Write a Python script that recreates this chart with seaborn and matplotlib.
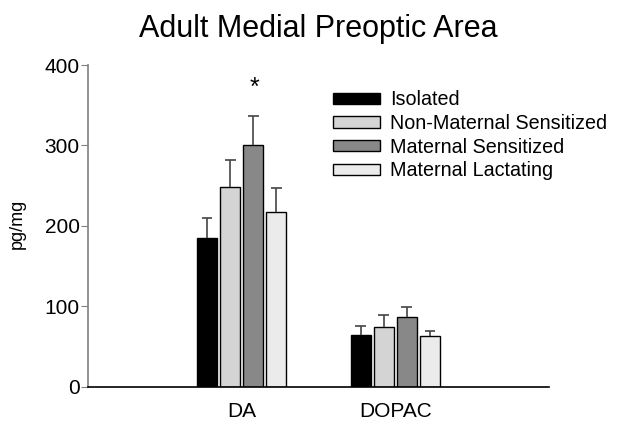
import numpy as np
import pandas as pd
import seaborn as sns
import matplotlib.pyplot as plt

### Data
Regions = ['DA', 'DOPAC']
Groups = ['Isolated', 'Non-Maternal Sensitized', 'Maternal Sensitized', 'Maternal Lactating']
IsolatedMean = [185, 65]
NonMaternalMean = [248, 75]
MaternalMean = [300, 87]
LactatingMean = [218, 63]
IsolatedErr = [25, 11]
NonMaternalErr = [34, 15]
MaternalErr = [37, 12]
LactatingErr = [29, 6]
Colours = ['#000000', '#d4d4d4', '#888888', '#ebebeb']

Means = [IsolatedMean, NonMaternalMean, MaternalMean, LactatingMean]
Errs = [IsolatedErr, NonMaternalErr, MaternalErr, LactatingErr]

rows = []
for g, m in zip(Groups, Means):
    for r, v in zip(Regions, m):
        rows.append({'Region': r, 'Group': g, 'pg/mg': v})
df = pd.DataFrame(rows)

sns.set_style('white')
plt.rcParams['font.family'] = ['Liberation Sans', 'DejaVu Sans']
plt.rcParams['text.color'] = 'black'
plt.rcParams['axes.labelcolor'] = 'black'
plt.rcParams['xtick.color'] = 'black'
plt.rcParams['ytick.color'] = 'black'

fig = plt.figure(figsize=(6.17, 4.21), dpi=100)
ax = fig.add_axes([0.1426, 0.0808, 0.7472, 0.7648])

sns.barplot(data=df, x='Region', y='pg/mg', hue='Group', hue_order=Groups,
            palette=Colours, width=0.6, gap=0.13, errorbar=None,
            edgecolor='black', linewidth=1, ax=ax)

### Upward-only error bars
for cont, err in zip(ax.containers, Errs):
    for bar, e in zip(cont, err):
        xc = bar.get_x() + bar.get_width() / 2
        top = bar.get_height()
        ax.vlines(xc, top, top + e, color='#444444', lw=1.2, zorder=1)
        ax.hlines(top + e, xc - 0.035, xc + 0.035, color='#444444', lw=1.2, zorder=1)

### Significance star over Maternal Sensitized DA
star_bar = ax.containers[2][0]
ax.text(star_bar.get_x() + star_bar.get_width() / 2 + 0.01, 372, '*', ha='center', va='center', fontsize=18)

ax.set_xlim(-1, 2)
ax.set_ylim(0, 400)
ax.set_yticks([0, 100, 200, 300, 400])
ax.set_xlabel('')
ax.set_ylabel('')
ax.tick_params(axis='y', left=True, length=5, color='#808080', labelcolor='black', labelsize=15, pad=1)
ax.tick_params(axis='x', bottom=False, length=0, labelcolor='black', labelsize=15, pad=11)
for s in ['top', 'right']:
    ax.spines[s].set_visible(False)
ax.spines['left'].set_color('#808080')
ax.spines['left'].set_linewidth(1.2)
ax.spines['bottom'].set_color('black')
ax.spines['bottom'].set_linewidth(1.2)

leg = ax.legend(loc='upper left', bbox_to_anchor=(237 / 461, 0.946), frameon=False,
                fontsize=14.2, handlelength=2.4, handleheight=0.5, handletextpad=0.5,
                labelspacing=0.24, borderaxespad=0)

fig.text(17 / 617, 1 - 224 / 421, 'pg/mg', rotation=90, ha='center', va='center', fontsize=13)
fig.text(318 / 617, 1 - 37 / 421, 'Adult Medial Preoptic Area', ha='center', va='baseline', fontsize=22)

plt.savefig('out.png', dpi=100)
